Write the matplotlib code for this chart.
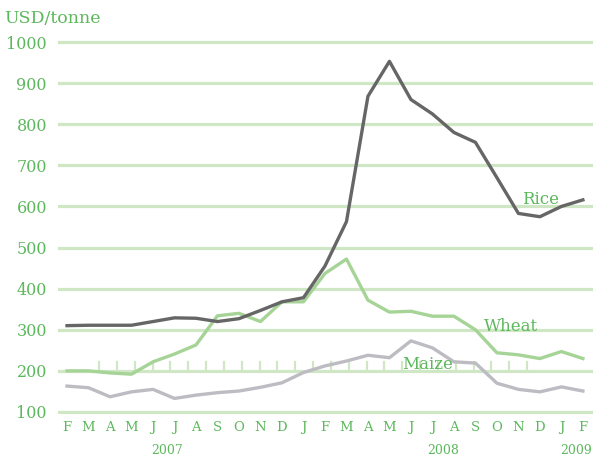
import numpy as np
import matplotlib
matplotlib.use("Agg")
import matplotlib.pyplot as plt

months = ["F", "M", "A", "M", "J", "J", "A", "S", "O", "N", "D",
          "J", "F", "M", "A", "M", "J", "J", "A", "S", "O", "N", "D",
          "J", "F"]
rice = [310, 311, 311, 311, 320, 329, 328, 320, 327, 347, 368,
        378, 455, 563, 868, 953, 860, 825, 780, 756, 670, 583, 575,
        600, 616]
wheat = [200, 200, 195, 192, 222, 241, 263, 334, 340, 320, 368,
         368, 437, 472, 372, 343, 345, 333, 333, 300, 244, 239, 230,
         247, 230]
maize = [163, 159, 137, 149, 155, 133, 141, 147, 151, 160, 171,
         196, 212, 224, 238, 232, 273, 256, 222, 219, 170, 155, 149,
         161, 151]
years = ["2007", "2008", "2009"]
year_pos = [4.65, 17.5, 23.7]
yticks = [100, 200, 300, 400, 500, 600, 700, 800, 900, 1000]

GREEN_TXT = "#5cb85c"
GRID = "#cfe7c4"
FONT = "DejaVu Serif"

fig = plt.figure(figsize=(5.93, 4.57), dpi=100)
ax = fig.add_axes([0.0978, 0.0941, 0.9022, 0.8227])
x = np.arange(len(months))

for v in yticks:
    ax.axhline(v, color=GRID, lw=2.3, zorder=1)

# little decorative ticks sitting on the 200 line
for t in np.linspace(1.49, 21.4, 25):
    ax.plot([t, t], [200, 222], color=GRID, lw=1.6, zorder=1)

ax.plot(x, maize, color="#bcbcc2", lw=2.4, zorder=3)
ax.plot(x, wheat, color="#a6d497", lw=2.4, zorder=4)
ax.plot(x, rice, color="#666666", lw=2.4, zorder=5)

ax.text(21.15, 617, "Rice", color=GREEN_TXT, fontsize=12, family=FONT, va="center")
ax.text(19.4, 308, "Wheat", color=GREEN_TXT, fontsize=12, family=FONT, va="center")
ax.text(15.6, 216, "Maize", color=GREEN_TXT, fontsize=12, family=FONT, va="center")

ax.set_xlim(-0.42, 24.47)
ax.set_ylim(95.1, 1009.7)
for s in ax.spines.values():
    s.set_visible(False)
ax.set_xticks(x)
ax.set_xticklabels(months, family=FONT, fontsize=9.5, color=GREEN_TXT)
ax.set_yticks(yticks)
ax.set_yticklabels([str(v) for v in yticks], family=FONT, fontsize=11.5, color=GREEN_TXT)
ax.tick_params(length=0, axis="y", pad=8)
ax.tick_params(length=0, axis="x", pad=5)

for yr, p in zip(years, year_pos):
    ax.text(p, -0.096, yr, color=GREEN_TXT, fontsize=9, family=FONT,
            ha="center", va="center", transform=ax.get_xaxis_transform())

fig.text(0.008, 0.96, "USD/tonne", color=GREEN_TXT, fontsize=12.5, family=FONT, va="center")

fig.savefig("out.png", dpi=100)
